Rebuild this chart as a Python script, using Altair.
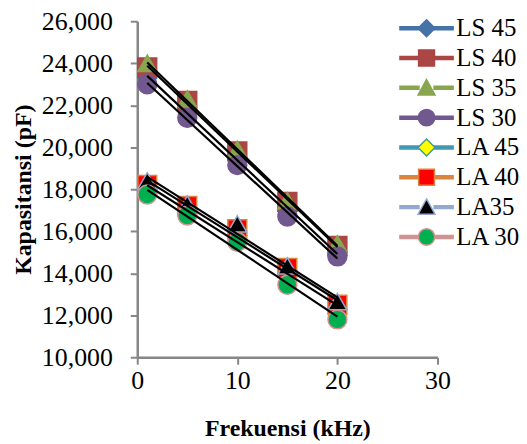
import altair as alt
import pandas as pd

# ---- data ----
freq = [1, 5, 10, 15, 20]
series_names = ["LS 45", "LS 40", "LS 35", "LS 30", "LA 45", "LA 40", "LA35", "LA 30"]
ls45 = [23300, 21750, 19450, 16950, 15000]
ls40 = [23800, 22200, 19800, 17400, 15300]
ls35 = [24000, 22300, 19900, 17450, 15400]
ls30 = [23000, 21400, 19150, 16700, 14800]
la45 = [18000, 17000, 15800, 14000, 12300]
la40 = [18200, 17200, 16100, 14250, 12500]
la35 = [18400, 17300, 16350, 14350, 12650]
la30 = [17750, 16750, 15500, 13450, 11800]
all_values = [ls45, ls40, ls35, ls30, la45, la40, la35, la30]

x_ticks = [0, 10, 20, 30]
y_ticks = [10000, 12000, 14000, 16000, 18000, 20000, 22000, 24000, 26000]

# ---- styles ----
line_colors = ["#4572A7", "#AA4643", "#89A54E", "#71588F",
               "#4198AF", "#DB843D", "#93A9CF", "#D19392"]
marker_fills = ["#4572A7", "#AA4643", "#89A54E", "#71588F",
                "#FFFF00", "#FF0000", "#000000", "#00B050"]
marker_shapes = ["diamond", "square", "triangle-up", "circle",
                 "diamond", "square", "triangle-up", "circle"]

# legend symbol paths (unit box -1..1, scaled by sqrt(symbolSize)/2)
line_path = "M-1,0L-0.25,0M0.25,0L1,0"
diamond_p = "M0,-0.31L0.31,0L0,0.31L-0.31,0Z"
square_p = "M-0.29,-0.29L0.29,-0.29L0.29,0.29L-0.29,0.29Z"
tri_p = "M0,-0.3L0.31,0.26L-0.31,0.26Z"
circ_p = "M0.3,0A0.3,0.3 0 1,1 -0.3,0A0.3,0.3 0 1,1 0.3,0Z"
legend_marker_paths = [diamond_p, square_p, tri_p, circ_p,
                       diamond_p, square_p, tri_p, circ_p]

rows = []
for name, vals in zip(series_names, all_values):
    for f, v in zip(freq, vals):
        rows.append({"series": name, "f": f, "c": v})
df = pd.DataFrame(rows)

FONT = "Liberation Serif"

x_enc = alt.X("f:Q", scale=alt.Scale(domain=[0, 30], nice=False),
              axis=alt.Axis(values=x_ticks, title="Frekuensi (kHz)", labelFlush=False))
y_enc = alt.Y("c:Q", scale=alt.Scale(domain=[10000, 26000], nice=False, zero=False),
              axis=alt.Axis(values=y_ticks, format=",d", title="Kapasitansi (pF)", labelFlush=False))

points = alt.Chart(df).mark_point(filled=True, opacity=1, strokeWidth=1.5).encode(
    x=x_enc, y=y_enc,
    shape=alt.Shape("series:N", scale=alt.Scale(domain=series_names, range=marker_shapes), legend=None),
    fill=alt.Fill("series:N", scale=alt.Scale(domain=series_names, range=marker_fills), legend=None),
    stroke=alt.Stroke("series:N", scale=alt.Scale(domain=series_names, range=line_colors), legend=None),
    size=alt.value(360),
    order=alt.Order("idx:Q"),
).transform_calculate(idx="indexof(" + str(series_names).replace("'", '"') + ", datum.series)")

trend = alt.Chart(df).transform_regression(
    "f", "c", groupby=["series"], extent=[1, 20]
).mark_line(color="black", strokeWidth=2.2).encode(
    x="f:Q", y="c:Q", detail="series:N"
)

LEG_X = 259
LEG_Y = -6
common_leg = dict(orient="none", legendX=LEG_X, legendY=LEG_Y, title=None,
                  symbolSize=3025, clipHeight=26, symbolOffset=2,
                  labelFont=FONT, labelFontSize=25,
                  labelOffset=0, rowPadding=4, labelColor="black")

leg_lines = alt.Chart(df).transform_filter("false").mark_point(filled=False, opacity=1).encode(
    x="f:Q", y="c:Q",
    stroke=alt.Stroke("series:N", scale=alt.Scale(domain=series_names, range=line_colors),
                      legend=alt.Legend(symbolStrokeWidth=4.5, **common_leg)),
    shape=alt.Shape("series:N", scale=alt.Scale(domain=series_names, range=[line_path] * 8),
                    legend=alt.Legend(symbolStrokeWidth=4.5, **common_leg)),
)

common_leg2 = dict(common_leg)
common_leg2["labelColor"] = "rgba(0,0,0,0)"
common_leg2["symbolOffset"] = 3.5
leg_marks = alt.Chart(df).transform_filter("false").mark_point(filled=True, opacity=1).encode(
    x="f:Q", y="c:Q",
    fill=alt.Fill("series:N", scale=alt.Scale(domain=series_names, range=marker_fills),
                  legend=alt.Legend(symbolStrokeWidth=1.5, **common_leg2)),
    stroke=alt.Stroke("series:N", scale=alt.Scale(domain=series_names, range=line_colors),
                      legend=alt.Legend(symbolStrokeWidth=1.5, **common_leg2)),
    shape=alt.Shape("series:N", scale=alt.Scale(domain=series_names, range=legend_marker_paths),
                    legend=alt.Legend(symbolStrokeWidth=1.5, **common_leg2)),
)

chart = alt.layer(points, trend, leg_lines, leg_marks).resolve_scale(
    shape="independent", fill="independent", stroke="independent"
).properties(
    width=302, height=338,
    autosize=alt.AutoSizeParams(type="none"),
    padding={"left": 130, "top": 12, "right": 82, "bottom": 90},
).configure_view(stroke=None).configure_axis(
    domainColor="#868686", domainWidth=2.5, tickColor="#868686", tickWidth=2,
    tickSize=7, grid=False, labelFont=FONT, labelFontSize=26, labelColor="black",
    titleFont=FONT, titleFontSize=24, titleFontWeight="bold", titleColor="black",
).configure_axisY(labelPadding=18, titlePadding=6).configure_axisX(
    labelPadding=3, titlePadding=24
)

chart.save("out.html", embed_options={"renderer": "svg", "actions": False})
